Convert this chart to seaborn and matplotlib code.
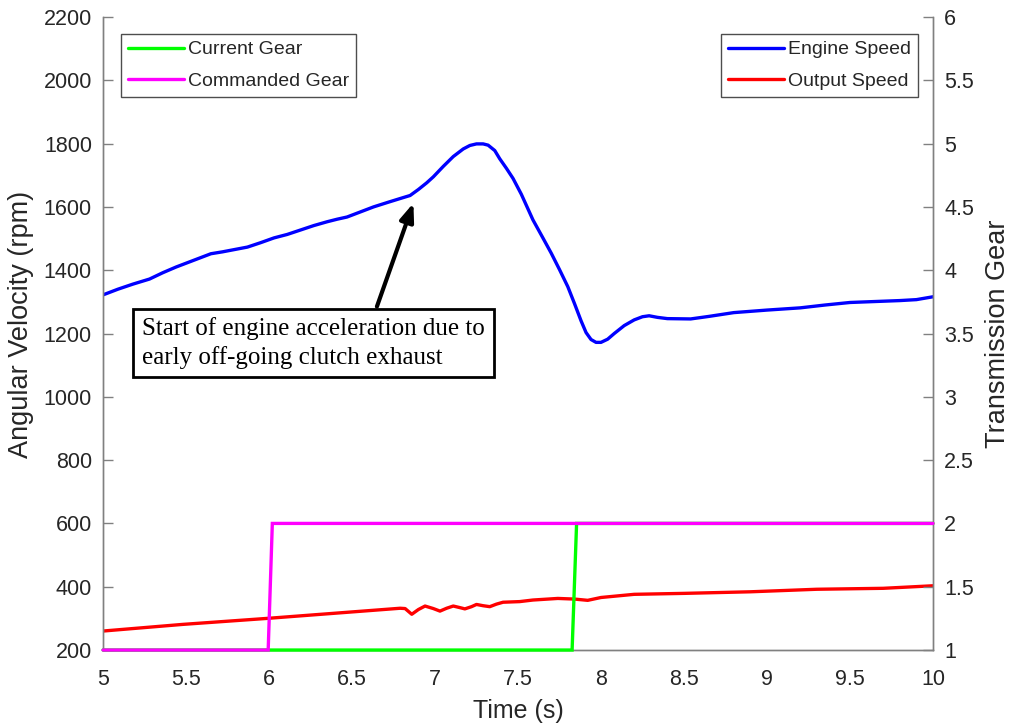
import numpy as np
import pandas as pd
import matplotlib
matplotlib.use("Agg")
import matplotlib.pyplot as plt
import seaborn as sns

# Engine speed trace (rpm)
engine_t = [5.00, 5.09, 5.18, 5.28, 5.36, 5.44, 5.51, 5.585, 5.65, 5.72, 5.80,
            5.87, 5.95, 6.03, 6.11, 6.19, 6.27, 6.35, 6.41, 6.47, 6.55, 6.63,
            6.72, 6.80, 6.85, 6.90, 6.95, 6.99, 7.05, 7.11, 7.17, 7.21, 7.25,
            7.29, 7.32, 7.36, 7.39, 7.43, 7.47, 7.52, 7.59, 7.65, 7.70, 7.75,
            7.80, 7.84, 7.88, 7.91, 7.94, 7.97, 8.00, 8.04, 8.08, 8.14, 8.20,
            8.25, 8.29, 8.34, 8.40, 8.54, 8.65, 8.80, 9.00, 9.20, 9.35, 9.50,
            9.65, 9.80, 9.90, 10.00]
engine_rpm = [1322, 1340, 1356, 1372, 1392, 1410, 1424, 1439, 1452, 1458, 1466,
              1473, 1487, 1502, 1513, 1527, 1541, 1553, 1561, 1568, 1584, 1600,
              1615, 1628, 1636, 1655, 1676, 1695, 1728, 1759, 1783, 1794, 1799,
              1799, 1795, 1778, 1752, 1722, 1690, 1640, 1559, 1502, 1454, 1402,
              1348, 1295, 1240, 1203, 1181, 1172, 1172, 1182, 1200, 1225, 1243,
              1253, 1256, 1251, 1247, 1246, 1254, 1266, 1274, 1281, 1290, 1298,
              1301, 1304, 1307, 1316]

# Output speed trace (rpm)
output_t = [5.00, 5.48, 5.99, 6.39, 6.79, 6.82, 6.86, 6.90, 6.94, 6.99, 7.03,
            7.07, 7.11, 7.15, 7.18, 7.22, 7.25, 7.29, 7.33, 7.37, 7.41, 7.51,
            7.59, 7.74, 7.84, 7.92, 8.00, 8.20, 8.50, 8.90, 9.30, 9.70, 10.00]
output_rpm = [260, 281, 300, 316, 332, 331, 313, 328, 339, 331, 323,
              332, 339, 334, 330, 337, 344, 340, 337, 345, 351, 353,
              358, 363, 361, 357, 366, 376, 379, 384, 392, 395, 403]

# Transmission gear signals
current_t = [5.0, 7.826, 7.853, 10.0]
current_gear = [1, 1, 2, 2]
commanded_t = [5.0, 5.995, 6.02, 10.0]
commanded_gear = [1, 1, 2, 2]

x_ticks = [5, 5.5, 6, 6.5, 7, 7.5, 8, 8.5, 9, 9.5, 10]
rpm_ticks = list(range(200, 2201, 200))
gear_ticks = [1, 1.5, 2, 2.5, 3, 3.5, 4, 4.5, 5, 5.5, 6]

sns.set_theme(style="white")
plt.rcParams["font.family"] = ["Liberation Sans", "DejaVu Sans"]

text_c = "#262626"
spine_c = "#808080"

fig = plt.figure(figsize=(10.13, 7.25), dpi=100)
ax = fig.add_axes([0.1017, 0.1034, 0.8193, 0.8732])
ax2 = ax.twinx()

engine_df = pd.DataFrame({"t": engine_t, "rpm": engine_rpm})
output_df = pd.DataFrame({"t": output_t, "rpm": output_rpm})
cur_df = pd.DataFrame({"t": current_t, "gear": current_gear})
cmd_df = pd.DataFrame({"t": commanded_t, "gear": commanded_gear})

sns.lineplot(data=engine_df, x="t", y="rpm", ax=ax, color="#0000ff",
             linewidth=2.4, label="Engine Speed", sort=False, estimator=None)
sns.lineplot(data=output_df, x="t", y="rpm", ax=ax, color="#ff0000",
             linewidth=2.4, label="Output Speed", sort=False, estimator=None)
sns.lineplot(data=cur_df, x="t", y="gear", ax=ax2, color="#00ff00",
             linewidth=2.4, label="Current Gear", sort=False, estimator=None)
sns.lineplot(data=cmd_df, x="t", y="gear", ax=ax2, color="#ff00ff",
             linewidth=2.4, label="Commanded Gear", sort=False, estimator=None)
for ln in ax2.get_lines():
    ln.set_clip_on(False)
    ln.set_zorder(3)
    ln.set_solid_joinstyle("miter")

ax.set_xlim(5, 10)
ax.set_ylim(200, 2200)
ax2.set_ylim(1, 6)
ax.set_xticks(x_ticks)
ax.set_xticklabels([f"{v:g}" for v in x_ticks])
ax.set_yticks(rpm_ticks)
ax2.set_yticks(gear_ticks)
ax2.set_yticklabels([f"{v:g}" for v in gear_ticks])

ax.set_xlabel("Time (s)", fontsize=18, color=text_c, labelpad=6)
ax.set_ylabel("Angular Velocity (rpm)", fontsize=19.5, color=text_c, labelpad=6)
ax2.set_ylabel("Transmission Gear", fontsize=19.5, color=text_c, labelpad=8)
ax.yaxis.set_label_coords(-0.083, 0.515)

for a in (ax, ax2):
    a.tick_params(direction="in", length=7, width=1, color=spine_c,
                  labelsize=15.5, labelcolor=text_c)
    a.spines["top"].set_visible(False)
    for s in ("left", "right", "bottom"):
        a.spines[s].set_color(spine_c)
        a.spines[s].set_linewidth(1)
ax.tick_params(axis="x", pad=14)
ax.tick_params(axis="y", pad=8)
ax2.tick_params(axis="y", pad=8)

leg_kw = dict(fontsize=14, frameon=True, fancybox=False, framealpha=1,
              edgecolor="#4d4d4d", handlelength=2.9, handletextpad=0.2,
              borderpad=0.35, labelspacing=0.7, borderaxespad=0)
leg1 = ax.legend(loc="upper right", bbox_to_anchor=(0.982, 0.973), **leg_kw)
leg2 = ax2.legend(loc="upper left", bbox_to_anchor=(0.022, 0.973), **leg_kw)
for leg in (leg1, leg2):
    leg.get_frame().set_linewidth(1)
    for t in leg.get_texts():
        t.set_color(text_c)

# Annotation
ax2.annotate("", xy=(6.87, 1612), xycoords=ax.transData,
             xytext=(6.65, 1285), textcoords=ax.transData,
             arrowprops=dict(arrowstyle="-|>,head_length=0.9,head_width=0.35",
                             color="black", lw=3, shrinkA=0, shrinkB=0),
             zorder=5)
ax2.text(5.235, 1170, "Start of engine acceleration due to\nearly off-going clutch exhaust",
         transform=ax.transData, fontsize=18, family=["Liberation Serif", "DejaVu Serif"],
         color="black", ha="left", va="center", linespacing=1.3, zorder=6,
         bbox=dict(boxstyle="square,pad=0.35", facecolor="white",
                   edgecolor="black", linewidth=2))

fig.savefig("out.png", dpi=100, facecolor="white")
